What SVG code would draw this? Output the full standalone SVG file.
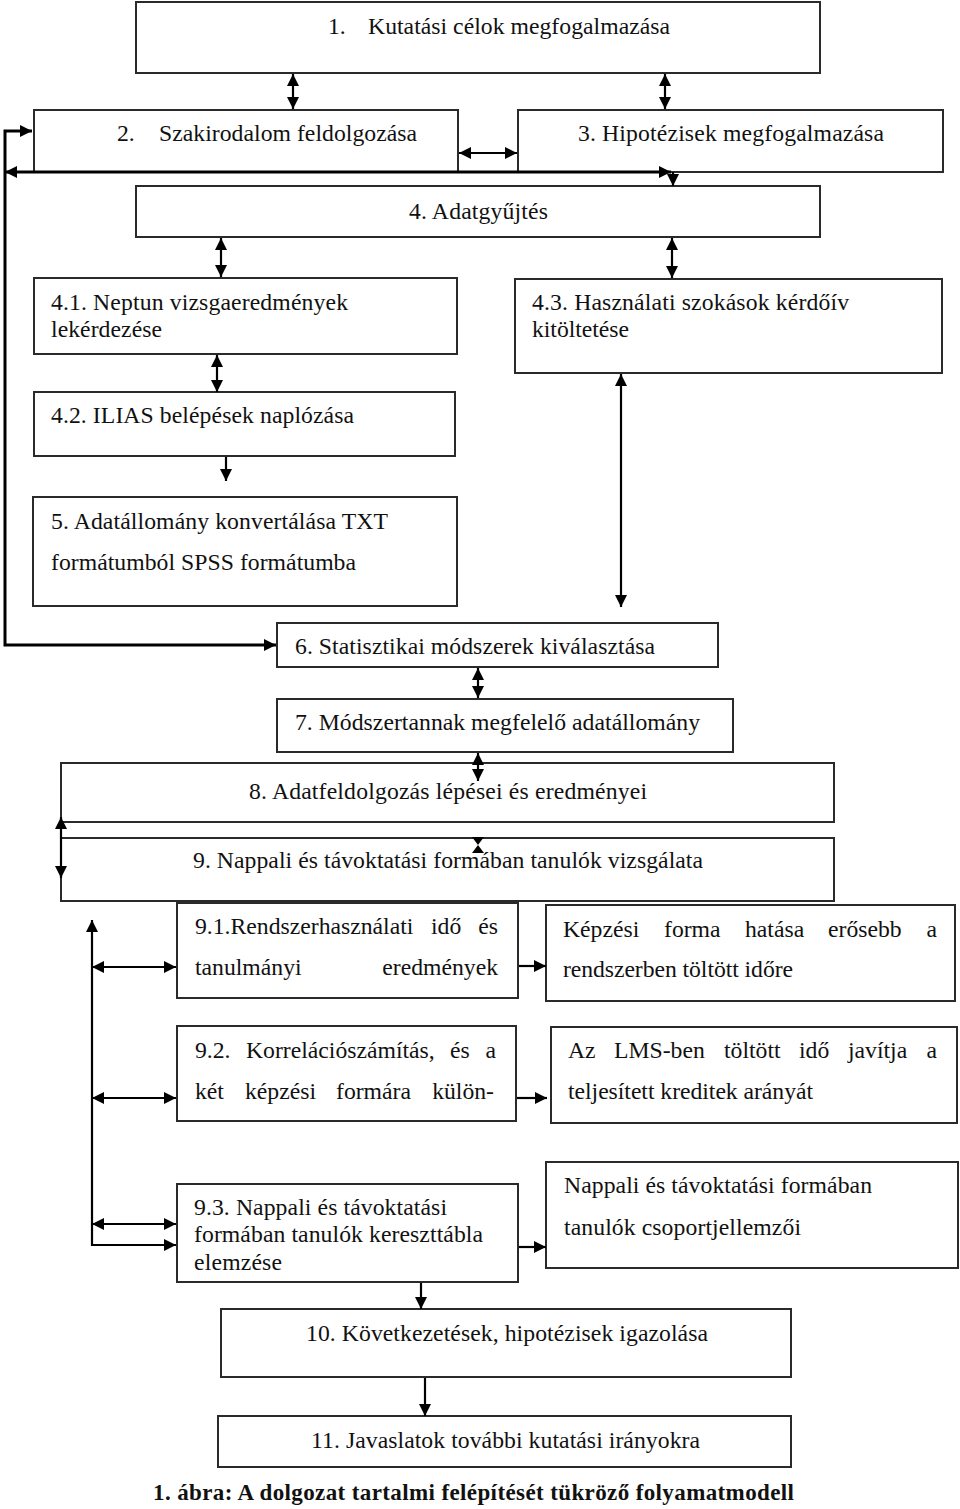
<svg xmlns="http://www.w3.org/2000/svg" width="960" height="1509" viewBox="0 0 960 1509">
<defs>
<style>
.box{fill:#fff;stroke:#2a2a2a;stroke-width:2}
.t{font-family:"Liberation Serif","Times New Roman",serif;font-size:23.7px;fill:#111}
.cap{font-family:"Liberation Serif","Times New Roman",serif;font-size:23px;font-weight:bold;fill:#111}
.c{fill:none;stroke:#000;stroke-width:2.2}
.k{stroke-width:3}
.d{marker-start:url(#ah);marker-end:url(#ah)}
.e{marker-end:url(#ah)}
</style>
<marker id="ah" viewBox="0 0 12 12" refX="12" refY="6" markerWidth="13" markerHeight="12" markerUnits="userSpaceOnUse" orient="auto-start-reverse">
<path d="M0,0 L12,6 L0,12 z" fill="#000"/>
</marker>
</defs>
<rect width="960" height="1509" fill="#fff"/>

<g id="n1"><rect class="box" x="136" y="2" width="684" height="71"/>
<text class="t" x="328" y="34">1.</text><text class="t" x="368" y="34" textLength="302">Kutatási célok megfogalmazása</text></g>
<g id="n2"><rect class="box" x="34" y="110" width="424" height="62"/>
<text class="t" x="117" y="141">2.</text><text class="t" x="159" y="141" textLength="258">Szakirodalom feldolgozása</text></g>
<g id="n3"><rect class="box" x="518" y="110" width="425" height="62"/>
<text class="t" x="578" y="141" textLength="306">3. Hipotézisek megfogalmazása</text></g>
<g id="n4"><rect class="box" x="136" y="186" width="684" height="51"/>
<text class="t" x="409" y="219" textLength="139">4. Adatgyűjtés</text></g>
<g id="n41"><rect class="box" x="34" y="278" width="423" height="76"/>
<text class="t" x="51" y="310" textLength="297">4.1. Neptun vizsgaeredmények</text>
<text class="t" x="51" y="337" textLength="111">lekérdezése</text></g>
<g id="n43"><rect class="box" x="515" y="279" width="427" height="94"/>
<text class="t" x="532" y="310" textLength="317">4.3. Használati szokások kérdőív</text>
<text class="t" x="532" y="337" textLength="97">kitöltetése</text></g>
<g id="n42"><rect class="box" x="34" y="392" width="421" height="64"/>
<text class="t" x="51" y="423" textLength="303">4.2. ILIAS belépések naplózása</text></g>
<g id="n5"><rect class="box" x="33" y="497" width="424" height="109"/>
<text class="t" x="51" y="529" textLength="337">5. Adatállomány konvertálása TXT</text>
<text class="t" x="51" y="570" textLength="305">formátumból SPSS formátumba</text></g>
<g id="n6"><rect class="box" x="277" y="623" width="441" height="44"/>
<text class="t" x="295" y="654" textLength="360">6. Statisztikai módszerek kiválasztása</text></g>
<g id="n7"><rect class="box" x="277" y="699" width="456" height="53"/>
<text class="t" x="295" y="730" textLength="405">7. Módszertannak megfelelő adatállomány</text></g>
<g id="n8"><rect class="box" x="61" y="763" width="773" height="59"/>
<text class="t" x="249" y="799" textLength="398">8. Adatfeldolgozás lépései és eredményei</text></g>
<g id="n9"><rect class="box" x="61" y="838" width="773" height="63"/>
<text class="t" x="193" y="868" textLength="510">9. Nappali és távoktatási formában tanulók vizsgálata</text></g>
<g id="n91"><rect class="box" x="177" y="903" width="341" height="95"/>
<text class="t" y="934"><tspan x="195">9.1.Rendszerhasználati</tspan><tspan x="431">idő</tspan><tspan x="498" text-anchor="end">és</tspan></text>
<text class="t" y="975"><tspan x="195">tanulmányi</tspan><tspan x="498" text-anchor="end">eredmények</tspan></text></g>
<g id="n91r"><rect class="box" x="546" y="905" width="409" height="96"/>
<text class="t" y="937"><tspan x="563">Képzési</tspan><tspan x="664">forma</tspan><tspan x="745">hatása</tspan><tspan x="828">erősebb</tspan><tspan x="937" text-anchor="end">a</tspan></text>
<text class="t" x="563" y="977" textLength="230">rendszerben töltött időre</text></g>
<g id="n92"><rect class="box" x="177" y="1026" width="339" height="95"/>
<text class="t" y="1058"><tspan x="195">9.2.</tspan><tspan x="246">Korrelációszámítás,</tspan><tspan x="450">és</tspan><tspan x="496" text-anchor="end">a</tspan></text>
<text class="t" y="1099"><tspan x="195">két</tspan><tspan x="245">képzési</tspan><tspan x="336">formára</tspan><tspan x="494" text-anchor="end">külön-</tspan></text></g>
<g id="n92r"><rect class="box" x="551" y="1027" width="406" height="96"/>
<text class="t" y="1058"><tspan x="568">Az</tspan><tspan x="614">LMS-ben</tspan><tspan x="724">töltött</tspan><tspan x="799">idő</tspan><tspan x="848">javítja</tspan><tspan x="937" text-anchor="end">a</tspan></text>
<text class="t" x="568" y="1099" textLength="245">teljesített kreditek arányát</text></g>
<g id="n93"><rect class="box" x="177" y="1184" width="341" height="98"/>
<text class="t" x="194" y="1215" textLength="253">9.3. Nappali és távoktatási</text>
<text class="t" x="194" y="1242" textLength="289">formában tanulók kereszttábla</text>
<text class="t" x="194" y="1270" textLength="88">elemzése</text></g>
<g id="n93r"><rect class="box" x="546" y="1162" width="412" height="106"/>
<text class="t" x="564" y="1193" textLength="308">Nappali és távoktatási formában</text>
<text class="t" x="564" y="1235" textLength="237">tanulók csoportjellemzői</text></g>
<g id="n10"><rect class="box" x="221" y="1309" width="570" height="68"/>
<text class="t" x="306" y="1341" textLength="402">10. Következetések, hipotézisek igazolása</text></g>
<g id="n11"><rect class="box" x="218" y="1416" width="573" height="51"/>
<text class="t" x="311" y="1448" textLength="389">11. Javaslatok további kutatási irányokra</text></g>
<text class="cap" x="153" y="1500" textLength="641">1. ábra: A dolgozat tartalmi felépítését tükröző folyamatmodell</text>

<g id="connectors">
<line class="c d" x1="293" y1="74" x2="293" y2="109"/>
<line class="c d" x1="665" y1="74" x2="665" y2="109"/>
<line class="c d" x1="459" y1="153" x2="517" y2="153"/>
<line class="c k d" x1="5" y1="172" x2="671" y2="172"/>
<line class="c e" x1="673" y1="172" x2="673" y2="186"/>
<polyline class="c k" points="5,172 5,645 276,645" style="marker-end:url(#ah)"/>
<polyline class="c k" points="5,172 5,131 32,131" style="marker-end:url(#ah)"/>
<line class="c d" x1="221" y1="238" x2="221" y2="277"/>
<line class="c d" x1="672" y1="238" x2="672" y2="278"/>
<line class="c d" x1="217" y1="355" x2="217" y2="392"/>
<line class="c e" x1="226" y1="457" x2="226" y2="481"/>
<line class="c d" x1="621" y1="374" x2="621" y2="607"/>
<line class="c d" x1="478" y1="668" x2="478" y2="698"/>
<line class="c d" x1="478" y1="753" x2="478" y2="781"/>
<polygon points="472,837 484,837 478,845 484,853 472,853 478,845" fill="#000"/>
<line class="c d" x1="61" y1="817" x2="61" y2="878"/>
<polyline class="c" points="92,920 92,1245 176,1245" style="marker-start:url(#ah);marker-end:url(#ah)"/>
<line class="c d" x1="92" y1="967" x2="176" y2="967"/>
<line class="c d" x1="92" y1="1098" x2="176" y2="1098"/>
<line class="c d" x1="92" y1="1224" x2="176" y2="1224"/>
<line class="c e" x1="519" y1="966" x2="546" y2="966"/>
<line class="c e" x1="517" y1="1098" x2="547" y2="1098"/>
<line class="c e" x1="519" y1="1247" x2="546" y2="1247"/>
<line class="c e" x1="421" y1="1283" x2="421" y2="1309"/>
<line class="c e" x1="425" y1="1378" x2="425" y2="1416"/>
</g>
</svg>
